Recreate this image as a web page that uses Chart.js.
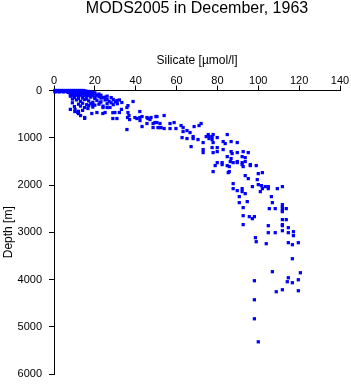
<!DOCTYPE html>
<html>
<head>
<meta charset="utf-8">
<script src="https://cdn.jsdelivr.net/npm/chart.js@4/dist/chart.umd.min.js"></script>
<style>
  html, body { margin: 0; padding: 0; background: #fff; }
  #wrap { width: 351px; height: 384px; position: relative; }
</style>
</head>
<body>
<div id="wrap"><canvas id="c" width="351" height="384"></canvas></div>
<script>
// ---- data: [silicate (µmol/l), depth (m)] ----
const upperLayer = [
  [0.5,0],[1.5,0],[2.5,0],[3.5,0],[4.5,0],[5.5,0],[6.5,0],[7.5,0],[8.5,0],[9.5,0],[10.5,0],[11.5,0],[12.5,0],[13.5,0],[14.5,0],
  [0.5,10],[2,10],[3.5,10],[5,10],[6.5,10],[8,10],[9.5,10],[11,10],[12.5,10],[14,10],[15.5,10],
  [1,20],[3,20],[5,20],[7,20],[9,20],[11,20],[13,20],[15,20],[17,20],
  [0.5,30],[2.5,30],[4.5,30],[6.5,30],[8.5,30],[10.5,30],[12.5,30],[14.5,30],[16,30],[18,30],
  [7,40],[9,40],[11,40],[13,40],[15,40],[17,40],[19,40],
  [8,50],[10,50],[12,50],[14,50],[16,50],[18,50],[20,50],
  [9,60],[11,60],[13,60],[15,60],[17,60],[19,60],
  [8,75],[10,75],[12,75],[14,75],[16,75],[18,75],[20,75],[22,75],
  [9,90],[11,90],[13,90],[15,90],[17,90],[19,90],
  [9,100],[11,100],[13,100],[15,100],[17,100],[19,100],[21,100],[23,100],
  [8,120],[10,150],[12,130],[14,160],[16,120],[18,140],[20,170],[22,130],[24,150],[26,120],
  [10,125],[14,135],[18,115],[20,145],[23,160],[25,140],[28,150],[12,170],[16,180],[9,180],
  [11,200],[13,230],[15,190],[17,220],[19,250],[21,210],[23,240],[25,200],[27,230],[29,190],
  [9,260],[12,290],[14,270],[16,300],[18,280],[20,310],[22,290],[26,280],[28,260],[30,240],
  [10,340],[13,330],[15,360],[17,320],[19,350],[24,330],[26,360],[29,300],[32,200],[31,280],
  [22.5,254],[26,191],[30.8,212],[35.7,360],[38.7,233],[36.2,320],[24,360],[27.4,360],[16.6,381],[19,297],[33.2,254]
];
const middleLayer = [
  [8,400],[10.3,403],[12,440],[14,420],[10.2,445],[11.6,466],[12,488],[13,530],[15,572],[15,590],[18.5,487],
  [21,466],[23.9,487],[25,466],[28.8,470],[29.8,466],[32,466],[33,400],[42,445],[36.2,466],[36.7,530],
  [28.8,593],[30.8,593],[36,572],[37,615],[39.6,572],[40.6,593],[42,572],[43.1,551],[42.1,636],[45.5,572],
  [46,593],[47,615],[45.5,699],[50.4,551],[48.5,700],[50.4,678],[51.4,785],[43.1,763],[35.7,826],
  [47.5,572],[49.9,551],[53.9,530],[49.4,678],[51.9,699],[48.5,784],[50.9,784],[53.9,805],[52.4,784],
  [56.8,699],[58.8,678],[56.8,805],[59.7,805],[62.2,742],[63.2,784],[63.2,869],[65.1,848],[62.7,996],
  [65.1,1017],[66.6,890],[68.6,763],[71,742],[72,699],[68.1,975],[68.1,1017],[70.5,1038],[67.1,1187],
  [73,1102],[74.5,975],[75.5,932],[75.9,975],[75.9,1017],[77.4,975],[77.9,932],[77.4,1038],[77.9,1102],
  [79.9,996],[84.8,932],[82.8,1081],[86.7,1081],[89.7,1102],[83.8,1123],[77.4,1208],[79.9,1208],
  [73,1250],[73,1314],[77.9,1314],[79.9,1293],[82.8,1250],[86.7,1293],[89.7,1314],[92.6,1293],[95.1,1314],
  [87.2,1335],[84.8,1399],[86.7,1441],[86.3,1504],[89.7,1504],[92.1,1399],[93.6,1420],[93.6,1504],
  [79.9,1526],[82.3,1526],[78.9,1589],[84.8,1589],[85.8,1610],[89.7,1526],[92.1,1526],[92.6,1610],
  [96.1,1589],[99,1589],[82.3,1568],[87.7,1526],[92.1,1568],[96.1,1568]
];
const deepLayer = [
  [77.9,1716],[85.8,1716],[85.3,1738],[93.6,1801],[95.1,1865],[100,1759],[102,1738],[99.5,1886],[100,1992],
  [97.1,2034],[87.7,1971],[87.7,2077],[89.7,2119],[92.1,2077],[92.1,2140],[93.6,2183],[90.7,2246],[90.7,2373],
  [92.6,2479],[94.6,2352],[101.5,2013],[102,2077],[101,2140],[103.4,2034],[104.9,2034],[104.9,2077],
  [109.3,2077],[111.8,2034],[106.4,2246],[106.9,2373],[105.4,2500],[108.3,2500],[111.8,2416],[111.8,2458],
  [111.8,2500],[111.8,2543],[111.8,2564],[113.7,2500],[92.6,2649],[95.6,2670],[97.1,2712],[98.1,2670],
  [111.8,2733],[113.7,2733],[111.8,2839],[111.8,2861],[114.7,2903],[104.9,2861],[92.6,2839],[111.8,2967],
  [114.7,3009],[117.2,2988],[117.2,3072],[108.3,3009],[104.9,3009],[98.6,3115],[99,3200],[103.9,3242],
  [116.7,3263],[119.6,3221],[114.7,3221],[116.7,3560],[106.9,3835],[98.1,4026],[114.7,3963],[114.2,4047],
  [116.7,4068],[119.6,4005],[120.6,3857],[111.8,4217],[108.8,4259],[119.6,4238],[98.1,4429],[98.1,4831],
  [100,5319]
];
const silicateTicks = [0, 20, 40, 60, 80, 100, 120, 140];
const depthTicks = [0, 1000, 2000, 3000, 4000, 5000, 6000];
const chartTitle = 'MODS2005 in December, 1963';
const xTitle = 'Silicate [µmol/l]';
const yTitle = 'Depth [m]';

const FONT = "'Liberation Sans', Arial, Helvetica, sans-serif";
const points = upperLayer.concat(middleLayer, deepLayer).map(([x, y]) => ({x, y}));

new Chart(document.getElementById('c'), {
  type: 'scatter',
  data: {
    datasets: [{
      data: points,
      pointStyle: 'rect',
      pointRadius: 2.3,
      pointBorderWidth: 0,
      backgroundColor: '#0000ff',
      borderColor: '#0000ff',
      clip: false
    }]
  },
  options: {
    responsive: false,
    animation: false,
    events: [],
    layout: { padding: { top: 0, left: 0, right: 11, bottom: 10 } },
    plugins: {
      legend: { display: false },
      tooltip: { enabled: false },
      title: {
        display: true,
        text: chartTitle,
        fullSize: false,
        color: '#000',
        font: { family: FONT, size: 16, weight: 'normal', lineHeight: 1.1 },
        padding: { top: 0, bottom: 0 }
      }
    },
    scales: {
      x: {
        type: 'linear',
        position: 'top',
        min: silicateTicks[0],
        max: silicateTicks[silicateTicks.length - 1],
        afterBuildTicks: s => { s.ticks = silicateTicks.map(v => ({value: v})); },
        afterFit: s => { s.height = 90.5 - 17.6; s.paddingLeft = 0; s.paddingRight = 0; },
        grid: { drawOnChartArea: false, drawTicks: true, tickLength: 5, color: '#000', lineWidth: 1 },
        border: { display: true, color: '#000', width: 1 },
        ticks: { color: '#000', padding: 0, maxRotation: 0, callback: v => String(v),
                 font: { family: FONT, size: 11, lineHeight: 0.9 } },
        title: { display: true, text: xTitle, color: '#000', padding: { top: 36, bottom: 0 },
                 font: { family: FONT, size: 12, lineHeight: 1.2 } }
      },
      y: {
        type: 'linear',
        position: 'left',
        reverse: true,
        min: depthTicks[0],
        max: depthTicks[depthTicks.length - 1],
        afterBuildTicks: s => { s.ticks = depthTicks.map(v => ({value: v})); },
        afterFit: s => { s.width = 54; s.paddingTop = 0; s.paddingBottom = 0; },
        grid: { drawOnChartArea: false, drawTicks: true, tickLength: 5, color: '#000', lineWidth: 1 },
        border: { display: true, color: '#000', width: 1 },
        ticks: { color: '#000', padding: 7, callback: v => String(v), font: { family: FONT, size: 11 } },
        title: { display: true, text: yTitle, color: '#000', padding: { top: 1, bottom: 0 },
                 font: { family: FONT, size: 12, lineHeight: 1.2 } }
      }
    }
  }
});
</script>
</body>
</html>
